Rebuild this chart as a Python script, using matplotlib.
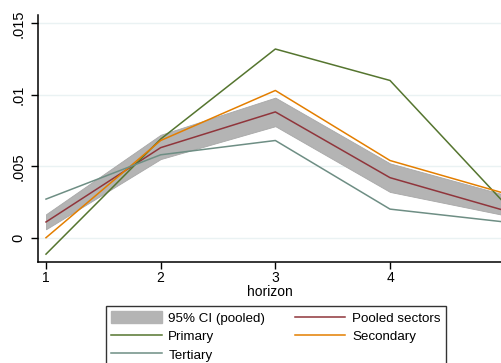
import matplotlib
matplotlib.use("Agg")
import matplotlib.pyplot as plt
from matplotlib.patches import Patch
from matplotlib.lines import Line2D

horizon = [1, 2, 3, 4, 5]
pooled = [0.0011, 0.0063, 0.0088, 0.0042, 0.0019]
ci_low = [0.00059, 0.0055, 0.0078, 0.0032, 0.00157]
ci_high = [0.00164, 0.0072, 0.0098, 0.0052, 0.0030]
primary = [-0.00115, 0.0069, 0.0132, 0.0110, 0.0024]
secondary = [0.0, 0.0068, 0.0103, 0.0054, 0.0031]
tertiary = [0.0027, 0.0058, 0.0068, 0.0020, 0.0011]

yticks = [0, 0.005, 0.01, 0.015]
ytick_labels = ["0", ".005", ".01", ".015"]
xticks = [1, 2, 3, 4]

c_band = "#b4b4b4"
c_pooled = "#90353b"
c_primary = "#55752f"
c_secondary = "#e37e00"
c_tertiary = "#6e8e84"

plt.rcParams["font.family"] = ["Liberation Sans", "DejaVu Sans"]

W, H = 501, 363
fig = plt.figure(figsize=(W / 100, H / 100), dpi=100)
fig.patch.set_facecolor("white")
ax = fig.add_axes([38 / W, 1 - 262 / H, 1 - 38 / W, (262 - 15) / H])

for y in yticks:
    ax.axhline(y, color="#eaf2f3", lw=1.0, zorder=0)

ax.fill_between(horizon, ci_low, ci_high, color=c_band, lw=0.6, edgecolor="#a8a8a8", zorder=1)
ax.plot(horizon, pooled, color=c_pooled, lw=1.1, zorder=3)
ax.plot(horizon, primary, color=c_primary, lw=1.1, zorder=3)
ax.plot(horizon, secondary, color=c_secondary, lw=1.1, zorder=3)
ax.plot(horizon, tertiary, color=c_tertiary, lw=1.1, zorder=3)

ax.set_xlim(1 - 8 / 114.67, 1 + 455 / 114.67)
ax.set_ylim(-0.0017, 0.01558)
ax.set_xticks(xticks)
ax.set_xticklabels([str(v) for v in xticks], fontsize=10)
ax.set_yticks(yticks)
ax.set_yticklabels(ytick_labels, fontsize=10.5, rotation=90, va="center")
ax.tick_params(axis="both", direction="out", length=5, width=1, color="black")
ax.tick_params(axis="y", pad=4)
ax.tick_params(axis="x", pad=1.5)
ax.set_xlabel("horizon", fontsize=10, labelpad=0)
for s in ["top", "right"]:
    ax.spines[s].set_visible(False)
for s in ["left", "bottom"]:
    ax.spines[s].set_linewidth(1.1)
    ax.spines[s].set_color("black")
ax.set_facecolor("white")

handles = [
    Patch(facecolor=c_band, edgecolor=c_band),
    Line2D([], [], color=c_primary, lw=1.1),
    Line2D([], [], color=c_tertiary, lw=1.1),
    Line2D([], [], color=c_pooled, lw=1.1),
    Line2D([], [], color=c_secondary, lw=1.1),
]
labels = ["95% CI (pooled)", "Primary", "Tertiary", "Pooled sectors", "Secondary"]
leg = fig.legend(handles, labels, loc="upper left",
                 bbox_to_anchor=(105.7 / W, 1 - 306 / H), bbox_transform=fig.transFigure,
                 ncol=2, fontsize=9.6, frameon=True, fancybox=False, borderaxespad=0,
                 handlelength=3.8, handleheight=1.0, handletextpad=0.5, columnspacing=2.2,
                 labelspacing=0.36, borderpad=0.4)
leg.get_frame().set_edgecolor("black")
leg.get_frame().set_linewidth(1.0)

fig.savefig("out.png", dpi=100)
